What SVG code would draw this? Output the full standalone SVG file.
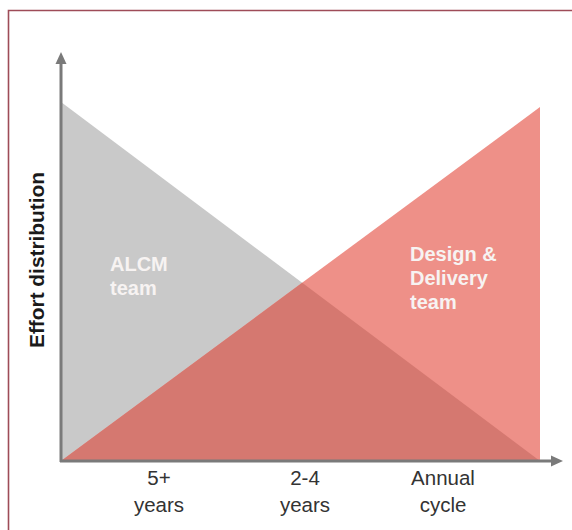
<svg xmlns="http://www.w3.org/2000/svg" width="572" height="530" viewBox="0 0 572 530">
  <defs>
    <style>
      .frame { fill: none; stroke: #9e4c58; stroke-width: 1.6; }
      .axis { stroke: #7a7a7a; stroke-width: 3; fill: none; }
      .head { fill: #7a7a7a; }
      .band-text { font-family: "Liberation Sans", Arial, sans-serif; font-weight: bold; font-size: 20px; fill: #f7f3f2; }
      .tick-text { font-family: "Liberation Sans", Arial, sans-serif; font-size: 20.5px; fill: #333333; text-anchor: middle; }
      .axis-title { font-family: "Liberation Sans", Arial, sans-serif; font-weight: bold; font-size: 19.5px; fill: #1a1a1a; text-anchor: middle; }
    </style>
  </defs>

  <rect width="572" height="530" fill="#ffffff"/>

  <!-- outer frame (open on the right and bottom edges) -->
  <path class="frame" d="M8.5,540 V10.5 H580"/>

  <!-- ALCM team effort: falls from long-term to annual -->
  <g id="alcm-team">
    <polygon points="61,102 61,461 540,461" fill="#c9c9c9"/>
    <text class="band-text" x="110" y="271">ALCM</text>
    <text class="band-text" x="110" y="295">team</text>
  </g>

  <!-- Design & Delivery team effort: rises toward annual cycle -->
  <g id="design-delivery-team">
    <polygon points="61,461 540,107 540,461" fill="#ee9088"/>
    <!-- shared region under both lines -->
    <polygon points="61,461 302.2,282.8 540,461" fill="#d57870"/>
    <text class="band-text" x="410" y="261">Design &amp;</text>
    <text class="band-text" x="410" y="285">Delivery</text>
    <text class="band-text" x="410" y="309">team</text>
  </g>

  <!-- axes -->
  <g id="connectors">
    <line class="axis" x1="61" y1="462" x2="61" y2="62"/>
    <polygon class="head" points="61,52 55.5,64 66.5,64"/>
    <line class="axis" x1="60" y1="461" x2="552" y2="461"/>
    <polygon class="head" points="563,461 551,455.5 551,466.5"/>
  </g>

  <g id="axis-title">
    <text class="axis-title" transform="translate(44,260) rotate(-90)" textLength="176" lengthAdjust="spacingAndGlyphs">Effort distribution</text>
  </g>

  <g id="tick-5-years">
    <text class="tick-text" x="159" y="485">5+</text>
    <text class="tick-text" x="159" y="512">years</text>
  </g>
  <g id="tick-2-4-years">
    <text class="tick-text" x="305" y="485">2-4</text>
    <text class="tick-text" x="305" y="512">years</text>
  </g>
  <g id="tick-annual">
    <text class="tick-text" x="443" y="485">Annual</text>
    <text class="tick-text" x="443" y="512">cycle</text>
  </g>
</svg>
